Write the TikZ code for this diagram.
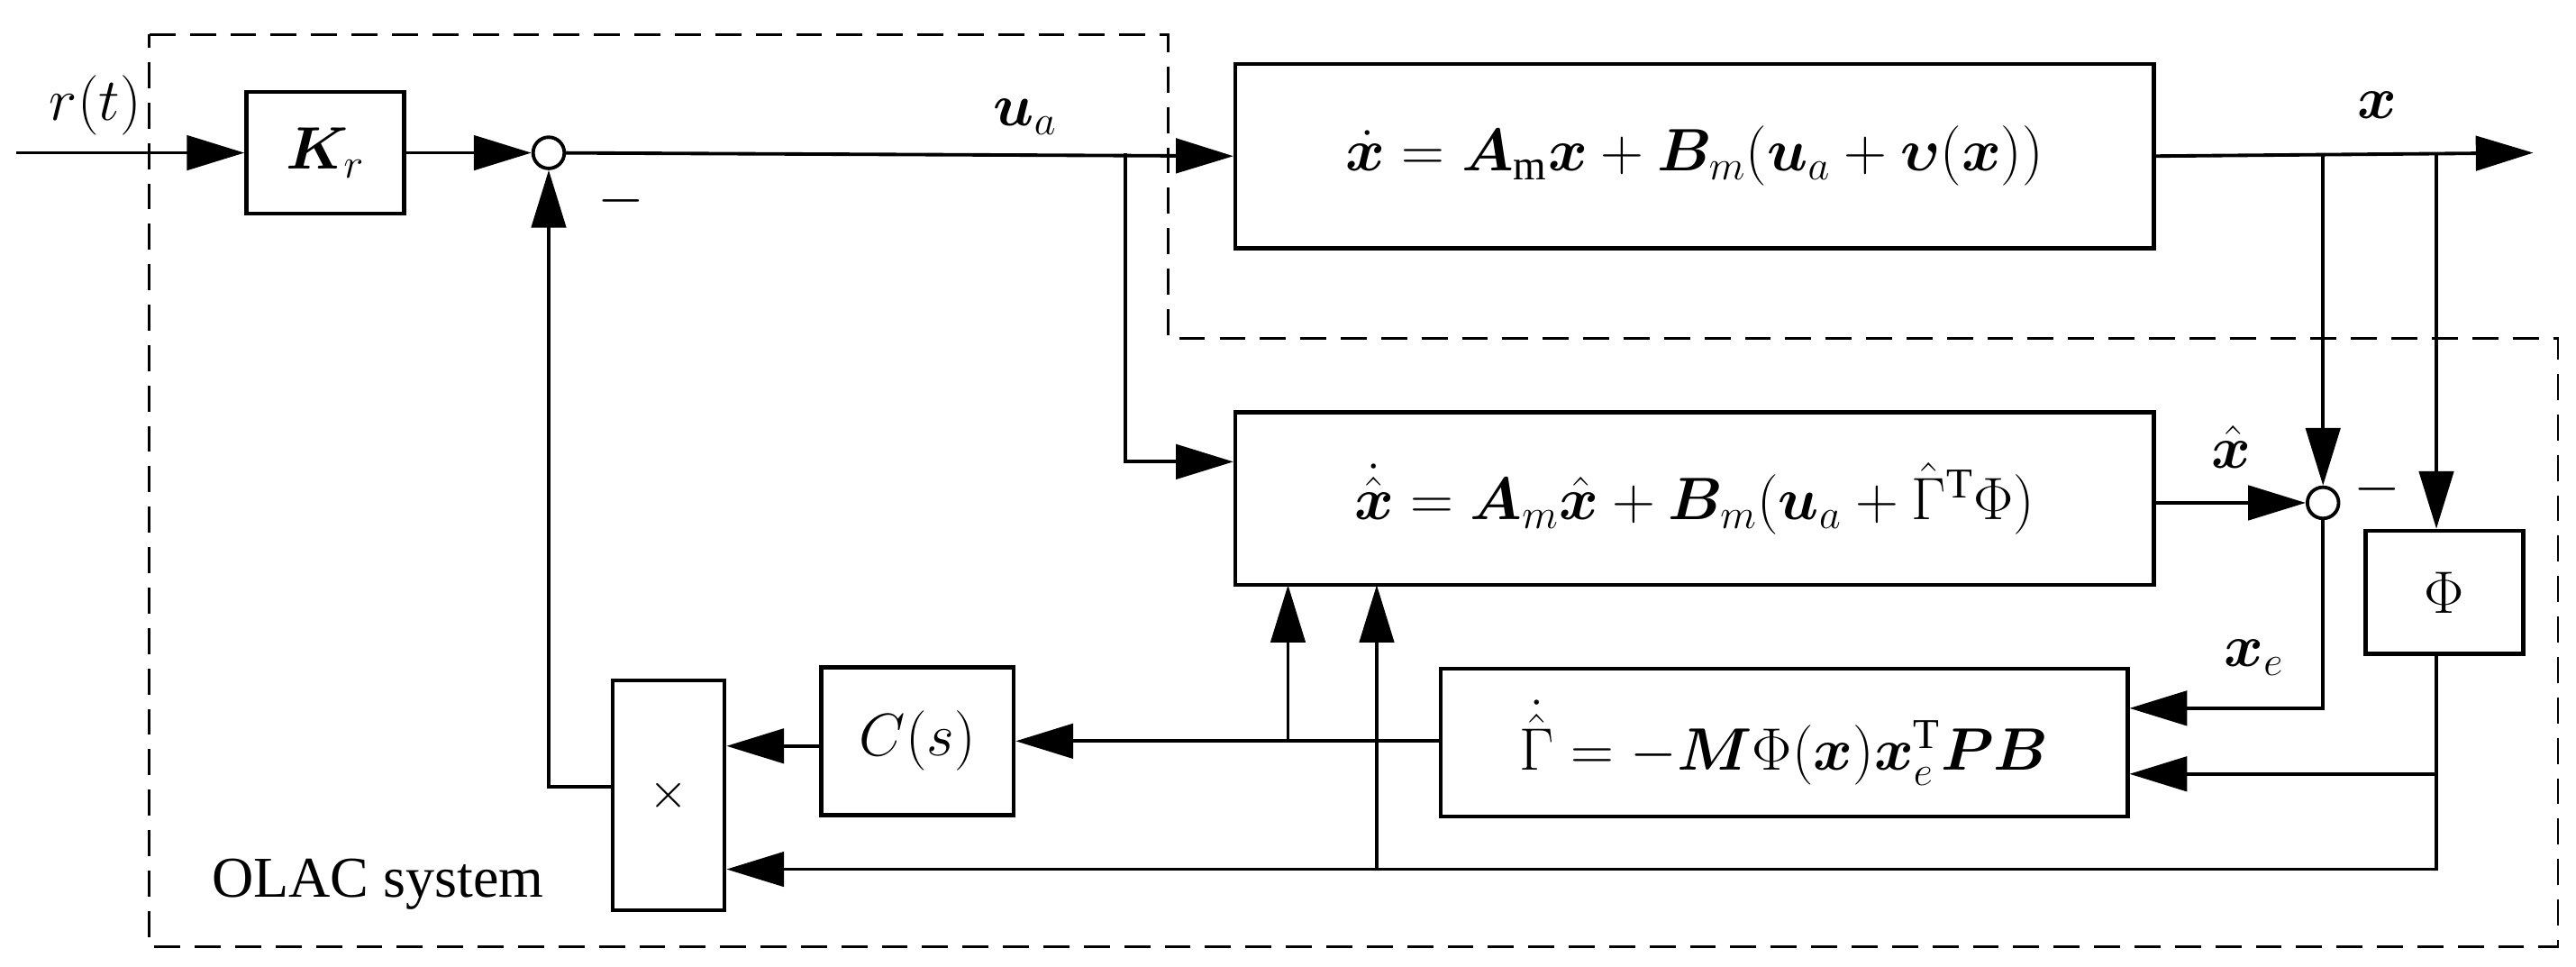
\documentclass[tikz,border=0pt]{standalone}
\usepackage{amsmath,bm}
\usepackage{fontspec}
\setmainfont{Liberation Serif}
\usetikzlibrary{arrows.meta}
\begin{document}
\begin{tikzpicture}[x=0.02cm,y=-0.02cm,
  ln/.style={line width=1.2pt},
  ar/.style={ln,-{Triangle[length=0.7cm,width=0.42cm]}},
  blk/.style={draw,line width=1.4pt,rectangle,inner sep=0pt},
  sm/.style={draw,circle,line width=1.2pt,minimum size=0.38cm,inner sep=0pt},
  lab/.style={font=\fontsize{20}{24}\selectfont},
  eq/.style={font=\fontsize{21}{25}\selectfont}]
\useasboundingbox (0,0) rectangle (1568,588);
% dashed boundary
\draw[line width=0.9pt,dash pattern=on 9pt off 5pt] (91,21) -- (711,21) -- (711,206) -- (1557,206) -- (1557,576) -- (91,576) -- cycle;
% blocks
\node[blk,minimum width=96*0.02cm,minimum height=74*0.02cm] (kr) at (198,93) {\fontsize{21}{25}\selectfont$\bm{K}_r$};
\node[sm] (s1) at (334,93) {};
\node[blk,eq,minimum width=559*0.02cm,minimum height=112*0.02cm] (pl) at (1031.5,95) {$\dot{\bm{x}}=\bm{A}_{\mathrm{m}}\bm{x}+\bm{B}_m(\bm{u}_a+\bm{\upsilon}(\bm{x}))$};
\node[blk,eq,minimum width=559*0.02cm,minimum height=105*0.02cm] (ob) at (1031.5,303.5) {$\dot{\hat{\bm{x}}}=\bm{A}_m\hat{\bm{x}}+\bm{B}_m(\bm{u}_a+\hat{\Gamma}^{\mathrm{T}}\Phi)$};
\node[sm] (s2) at (1414,306) {};
\node[blk,minimum width=96*0.02cm,minimum height=75*0.02cm] (phi) at (1488,360.5) {\fontsize{22}{26}\selectfont$\Phi$};
\node[blk,eq,minimum width=418*0.02cm,minimum height=90*0.02cm] (gm) at (1086,452) {$\dot{\hat{\Gamma}}=-\bm{M}\Phi(\bm{x})\bm{x}_e^{\mathrm{T}}\bm{P}\bm{B}$};
\node[blk,minimum width=117*0.02cm,minimum height=90*0.02cm] (cs) at (558.5,451) {\fontsize{21}{25}\selectfont$C(s)$};
\node[blk,minimum width=68*0.02cm,minimum height=140*0.02cm] (mul) at (407,484) {\fontsize{18}{22}\selectfont$\times$};
% coordinates
\coordinate (in) at (10,93);
\coordinate (ua) at (685,93);
\coordinate (out) at (1542,93);
\coordinate (bx) at (1414,93);
\coordinate (bp) at (1483,93);
% connectors
\draw[ar] (in) -- (kr);
\draw[ar] (kr) -- (s1);
\draw[ar] (s1) -- (pl.west);
\draw[ar] (pl.east) -- (out);
\draw[ar] (ua) -- (685,281) -- (ob.west |- 0,281);
\draw[ar] (bx) -- (s2);
\draw[ar] (bp) -- (phi.north -| bp);
\draw[ar] (ob.east |- s2) -- (s2);
\draw[ar] (s2) -- (1414,431) -- (gm.east |- 0,431);
\draw[ar] (1483,398) -- (1483,471) -- (gm.east |- 0,471);
\draw[ar] (gm.west |- 0,451) -- (cs.east);
\draw[ar] (cs.west |- 0,454) -- (mul.east |- 0,454);
\draw[ar] (1483,471) -- (1483,529) -- (mul.east |- 0,529);
\draw[ar] (784,451) -- (784,356);
\draw[ar] (838,529) -- (838,356);
\draw[ar] (mul.west |- 0,479) -- (334,479) -- (s1);
% labels
\node[lab] at (58,64) {$r(t)$};
\node[lab] at (378,122) {$-$};
\node[lab] at (624,71) {$\bm{u}_a$};
\node[lab] at (1447,64) {$\bm{x}$};
\node[lab] at (1358,272) {$\hat{\bm{x}}$};
\node[lab] at (1447,298) {$-$};
\node[lab] at (1372,400) {$\bm{x}_e$};
\node[font=\fontsize{20}{24}\selectfont] at (230,538) {OLAC system};
\end{tikzpicture}
\end{document}
